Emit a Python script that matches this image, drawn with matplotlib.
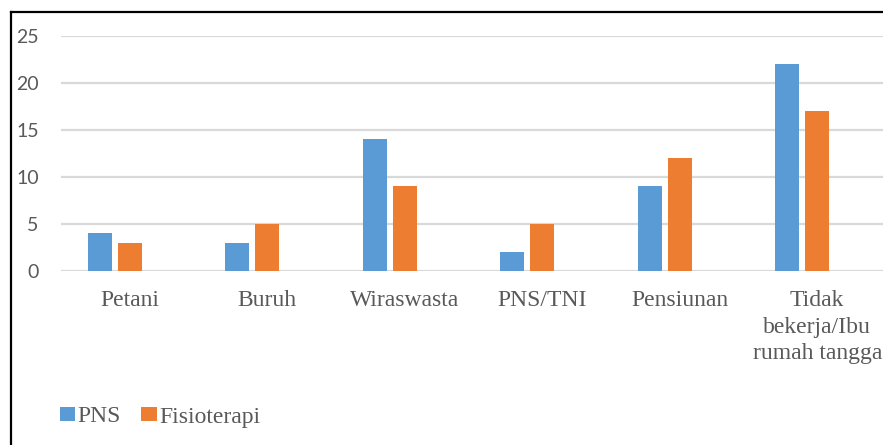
import numpy as np
import matplotlib
matplotlib.use("Agg")
import matplotlib.pyplot as plt
from matplotlib.lines import Line2D

# data: jumlah responden per pekerjaan
categories = ["Petani", "Buruh", "Wiraswasta", "PNS/TNI", "Pensiunan",
              "Tidak\nbekerja/Ibu\nrumah tangga"]
pns = [4, 3, 14, 2, 9, 22]
fisioterapi = [3, 5, 9, 5, 12, 17]
yticks = [0, 5, 10, 15, 20, 25]

blue = "#5B9BD5"
orange = "#ED7D31"
grid_col = "#D9D9D9"
text_col = "#595959"

fig = plt.figure(figsize=(8.83, 4.45), dpi=100)
ax = fig.add_axes([61 / 883, 1 - 271 / 445, 825 / 883, 235 / 445])

x = np.arange(len(categories))
w = 0.1745
ax.bar(x - 0.218, pns, width=w, color=blue, label="PNS", zorder=3)
ax.bar(x, fisioterapi, width=w, color=orange, label="Fisioterapi", zorder=3)

ax.set_xlim(-0.5, len(categories) - 0.5)
ax.set_ylim(0, 25)
ax.set_yticks(yticks)
ax.yaxis.grid(True, color=grid_col, linewidth=1.6, zorder=0)
ax.set_axisbelow(True)
for s in ax.spines.values():
    s.set_visible(False)

ax.set_xticks(x)
ax.set_xticklabels(categories, family="Liberation Serif", fontsize=17,
                   color=text_col, linespacing=1.32)
ax.tick_params(axis="x", length=0, pad=14)
ax.tick_params(axis="y", length=0, pad=16, labelcolor=text_col)
for lbl in ax.get_yticklabels():
    lbl.set_family("Lato")
    lbl.set_fontsize(14)

leg = fig.legend(loc="center left", bbox_to_anchor=(60 / 883, 1 - 417 / 445),
                 ncol=2, frameon=False, borderpad=0, borderaxespad=0,
                 handlelength=0.65, handleheight=0.55,
                 handletextpad=0.1, columnspacing=0.85,
                 prop={"family": "Liberation Serif", "size": 17})
for t in leg.get_texts():
    t.set_color(text_col)

# outer chart border (left and top edges)
fig.add_artist(Line2D([10.5 / 883, 10.5 / 883], [1 - 12 / 445, 0],
                      transform=fig.transFigure, color="black", linewidth=1.6))
fig.add_artist(Line2D([10.5 / 883, 1], [1 - 12 / 445, 1 - 12 / 445],
                      transform=fig.transFigure, color="black", linewidth=1.6))

fig.savefig("out.png", dpi=100, facecolor="white")
